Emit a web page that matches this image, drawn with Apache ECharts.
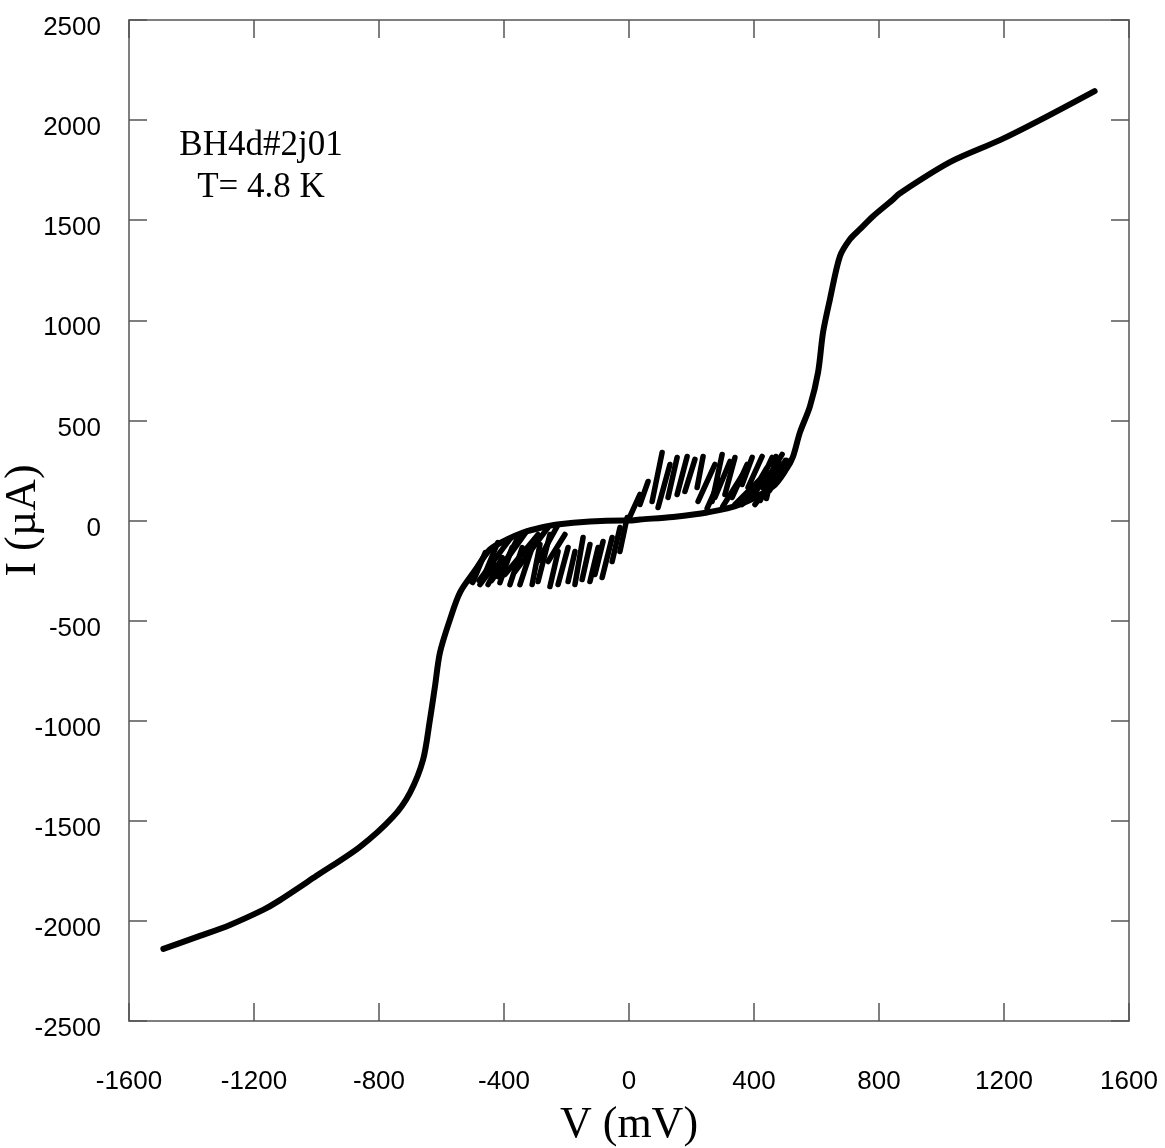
<!DOCTYPE html>
<html>
<head>
<meta charset="utf-8">
<script src="https://cdn.jsdelivr.net/npm/echarts@6/dist/echarts.min.js"></script>
<style>html,body{margin:0;padding:0;background:#fff}#c{width:1165px;height:1148px}</style>
</head>
<body>
<div id="c"></div>
<script>
// ---- data (V in mV, I in µA) ----
const mainV = [-1490,-1382,-1277,-1171,-1126,-1000,-861,-755,-701,-659,-637,-621,-605,-573,-541,-493,-445,-390,-339,-280,-230,-125,-19,0,35,141,250,355,461,505,525,547,579,605,621,643,675,707,739,781,842,867,1027,1187,1315,1490];
const mainI = [-2140,-2080,-2020,-1945,-1905,-1775,-1630,-1480,-1360,-1195,-995,-830,-660,-495,-360,-250,-145,-95,-60,-35,-20,-5,0,0,5,18,40,80,170,260,320,440,570,740,940,1105,1320,1405,1455,1520,1600,1635,1790,1900,2000,2145];

// switching jumps: [V start, I start, V end, I end]
const posJumps = [
  [3,20,35,130],[35,80,61,195],[74,95,106,340],[93,65,131,280],[125,115,154,315],
  [154,130,186,320],[179,145,211,305],[218,165,237,320],[221,95,275,280],[266,95,298,330],
  [275,115,323,295],[307,130,339,315],[330,115,378,280],[362,180,394,315],[381,165,426,320],
  [403,130,458,315],[426,165,490,330],[339,80,419,205],[362,80,458,245],[403,80,499,280],
  [440,110,470,320],[250,60,290,200],[450,150,500,300],[470,200,505,300],[420,100,480,290],
  [300,70,360,220],[380,100,440,260]
];
const negJumps = [
  [-6,15,-29,-155],[-29,-35,-54,-205],[-54,-85,-86,-285],[-83,-105,-109,-270],[-99,-135,-125,-305],
  [-125,-120,-150,-295],[-147,-85,-173,-320],[-173,-155,-195,-305],[-195,-135,-227,-320],[-227,-155,-253,-330],
  [-253,-70,-291,-305],[-285,-120,-310,-320],[-310,-135,-349,-320],[-342,-135,-381,-320],[-374,-135,-413,-310],
  [-406,-185,-451,-320],[-429,-220,-477,-320],[-259,-35,-365,-255],[-291,-70,-397,-270],[-205,-70,-259,-205],
  [-330,-60,-440,-300],[-380,-90,-480,-300],[-460,-160,-500,-310],[-480,-220,-510,-300],[-420,-110,-470,-300],
  [-350,-70,-420,-280],[-230,-30,-290,-200]
];

const xTicks = {min:-1600, max:1600, interval:400};
const yTicks = {min:-2500, max:2500, interval:500};
const sampleLabel = ['BH4d#2j01', 'T= 4.8 K'];

// ---- chart ----
const chart = echarts.init(document.getElementById('c'), null, {renderer:'canvas'});
const lineCol = '#000';
const axisCol = '#555';
const tickFont = {fontFamily:'Liberation Sans', fontSize:26, color:'#000'};

const series = [{
  type:'line', xAxisIndex:0, yAxisIndex:0,
  data: mainV.map((v,i)=>[v, mainI[i]]),
  showSymbol:false, smooth:0.3,
  lineStyle:{color:lineCol, width:6, cap:'round', join:'round'},
  silent:true, animation:false
}];
[...posJumps, ...negJumps].forEach(j=>{
  series.push({
    type:'line', xAxisIndex:0, yAxisIndex:0,
    data:[[j[0],j[1]],[j[2],j[3]]],
    showSymbol:false,
    lineStyle:{color:lineCol, width:5.5, cap:'round'},
    silent:true, animation:false
  });
});

function axisBase(extra){
  return Object.assign({
    type:'value',
    axisLine:{show:true, onZero:false, lineStyle:{color:axisCol, width:1.5}},
    axisTick:{show:true, inside:true, length:18, lineStyle:{color:axisCol, width:1.5}},
    splitLine:{show:false}
  }, extra);
}

chart.setOption({
  backgroundColor:'#fff',
  animation:false,
  grid:{left:129, right:36, top:20, bottom:127, containLabel:false, outerBoundsMode:'none'},
  xAxis:[
    axisBase(Object.assign({position:'bottom', name:'V (mV)', nameLocation:'middle', nameGap:82,
      nameTextStyle:{fontFamily:'Liberation Serif', fontSize:44, color:'#000'},
      axisLabel:Object.assign({margin:48, formatter:v=>String(v)}, tickFont)}, xTicks)),
    axisBase(Object.assign({position:'top', axisLabel:{show:false}}, xTicks))
  ],
  yAxis:[
    axisBase(Object.assign({position:'left', name:'I (µA)', nameLocation:'middle', nameGap:84, nameRotate:90,
      nameMoveOverlap:false,
      nameTextStyle:{fontFamily:'Liberation Serif', fontSize:44, color:'#000'},
      axisLabel:Object.assign({margin:28, formatter:v=>'{a|'+v+'}',
        rich:{a:{fontFamily:'Liberation Sans', fontSize:26, color:'#000', padding:[16,0,0,0]}}}, tickFont)}, yTicks)),
    axisBase(Object.assign({position:'right', axisLabel:{show:false}}, yTicks))
  ],
  graphic:[{
    type:'text', x:261, y:125,
    style:{text:sampleLabel.join('\n'), fontFamily:'Liberation Serif', fontSize:35, lineHeight:42, fill:'#000', align:'center', textAlign:'center'}
  }],
  series: series
});
</script>
</body>
</html>
